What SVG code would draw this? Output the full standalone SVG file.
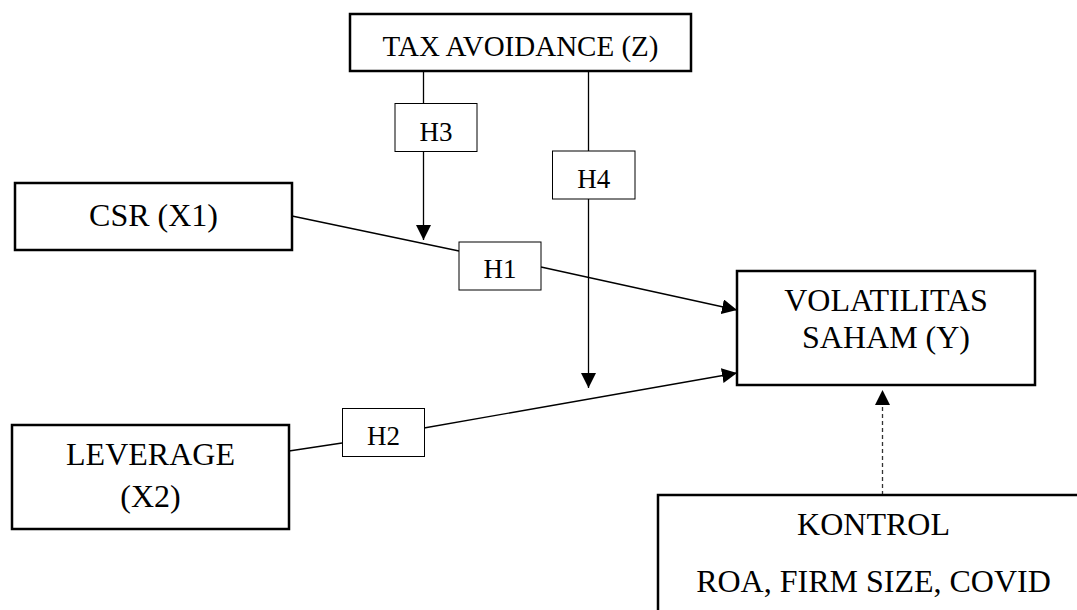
<svg xmlns="http://www.w3.org/2000/svg" width="1077" height="610" viewBox="0 0 1077 610">
<style>
.node{fill:#fff;stroke:#000;stroke-width:2.5}
.hyp{fill:#fff;stroke:#000;stroke-width:1}
.t{font-family:"Liberation Serif","Times New Roman",serif;fill:#000;text-anchor:middle}
.big{font-size:32px}
.mid{font-size:29px}
.sm{font-size:27px}
.ln{stroke:#000;stroke-width:1.3;fill:none}
.dash{stroke:#333;stroke-width:1.3;fill:none;stroke-dasharray:4 3}
</style>
<defs>
<marker id="arr" markerWidth="15" markerHeight="15" refX="15" refY="7.5" orient="auto" markerUnits="userSpaceOnUse">
<path d="M0,0 L15,7.5 L0,15 z" fill="#000"/>
</marker>
</defs>
<rect width="1077" height="610" fill="#fff"/>
<g id="connectors">
<line class="ln" x1="423.5" y1="71" x2="423.5" y2="103"/>
<line class="ln" x1="423.5" y1="152" x2="423.5" y2="240" marker-end="url(#arr)"/>
<line class="ln" x1="588.5" y1="71" x2="588.5" y2="151"/>
<line class="ln" x1="588.5" y1="199" x2="588.5" y2="388" marker-end="url(#arr)"/>
<line class="ln" x1="292" y1="216" x2="459" y2="251"/>
<line class="ln" x1="541" y1="267" x2="737" y2="310" marker-end="url(#arr)"/>
<line class="ln" x1="289" y1="451" x2="342" y2="443"/>
<line class="ln" x1="424" y1="428" x2="737" y2="373" marker-end="url(#arr)"/>
<line class="dash" x1="882.5" y1="495" x2="882.5" y2="390" marker-end="url(#arr)"/>
</g>
<g id="tax">
<rect class="node" x="350" y="14" width="341" height="57"/>
<text class="t mid" x="520.5" y="56">TAX AVOIDANCE (Z)</text>
</g>
<g id="csr">
<rect class="node" x="15" y="183" width="277" height="67"/>
<text class="t big" x="153.5" y="226">CSR (X1)</text>
</g>
<g id="leverage">
<rect class="node" x="12" y="425" width="277" height="104"/>
<text class="t big" x="150.5" y="465">LEVERAGE</text>
<text class="t big" x="150.5" y="507">(X2)</text>
</g>
<g id="volatilitas">
<rect class="node" x="737" y="271" width="298" height="114"/>
<text class="t big" x="886" y="311">VOLATILITAS</text>
<text class="t big" x="886" y="348">SAHAM (Y)</text>
</g>
<g id="kontrol">
<rect class="node" x="658" y="495" width="430" height="140"/>
<text class="t big" x="873.5" y="535">KONTROL</text>
<text class="t big" x="873.5" y="592">ROA, FIRM SIZE, COVID</text>
</g>
<g id="h3">
<rect class="hyp" x="395" y="103.5" width="82" height="48"/>
<text class="t sm" x="436" y="141">H3</text>
</g>
<g id="h4">
<rect class="hyp" x="552.5" y="151" width="82.5" height="48"/>
<text class="t sm" x="593.7" y="188">H4</text>
</g>
<g id="h1">
<rect class="hyp" x="459" y="242" width="82" height="48"/>
<text class="t sm" x="500" y="278">H1</text>
</g>
<g id="h2">
<rect class="hyp" x="342.5" y="408.5" width="82" height="48"/>
<text class="t sm" x="383.5" y="445">H2</text>
</g>
</svg>
